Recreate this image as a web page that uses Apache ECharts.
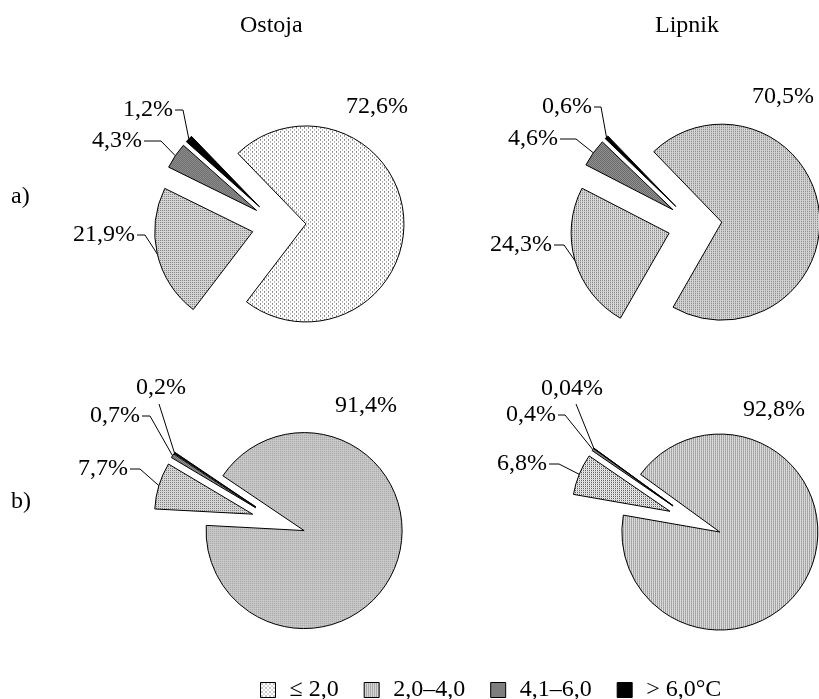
<!DOCTYPE html>
<html>
<head>
<meta charset="utf-8">
<title>Ostoja / Lipnik</title>
<script src="https://cdn.jsdelivr.net/npm/echarts@6/dist/echarts.min.js"></script>
<style>
  html, body { margin: 0; padding: 0; background: #fff; }
  #chart { width: 819px; height: 699px; }
</style>
</head>
<body>
<div id="chart"></div>
<script>
// ---- data -------------------------------------------------------------
const categories = ['≤ 2,0', '2,0–4,0', '4,1–6,0', '> 6,0°C'];
const sites = ['Ostoja', 'Lipnik'];
const periods = ['a)', 'b)'];
const ostojaA = [72.6, 21.9, 4.3, 1.2];
const lipnikA = [70.5, 24.3, 4.6, 0.6];
const ostojaB = [91.4, 7.7, 0.7, 0.2];
const lipnikB = [92.8, 6.8, 0.4, 0.04];

// ---- styling ----------------------------------------------------------
const FONT = '"Liberation Serif", "Times New Roman", serif';
const FS = 24;
const LABEL_GAP = 5;
const EXPLODE = 27;

// small bitmap tiles used as hatch fills
function tile(size, bg, dots) {
  const c = document.createElement('canvas');
  c.width = size; c.height = size;
  const g = c.getContext('2d');
  g.fillStyle = bg; g.fillRect(0, 0, size, size);
  dots.forEach(function (d) { g.fillStyle = d[2]; g.fillRect(d[0], d[1], 1, 1); });
  return c;
}
const fillSparse = { image: tile(4, '#ffffff', [[1, 1, '#1e1e1e'], [3, 3, '#707070']]), repeat: 'repeat' };
const fillMid = { image: tile(2, '#ffffff', [[0, 0, '#3a3a3a'], [1, 1, '#c8c8c8']]), repeat: 'repeat' };
const fillDark = { image: tile(2, '#bcbcbc', [[0, 0, '#404040'], [1, 1, '#404040']]), repeat: 'repeat' };
const fillBlack = '#000000';

const pies = [
  { values: ostojaA, center: [279, 225.5], startAngle: 134, fills: [fillSparse, fillMid, fillDark, fillBlack] },
  { values: lipnikA, center: [695, 225.5], startAngle: 134, fills: [fillMid, fillMid, fillDark, fillBlack] },
  { values: ostojaB, center: [278.5, 522], startAngle: 146, fills: [fillMid, fillMid, fillDark, fillBlack] },
  { values: lipnikB, center: [695, 521.5], startAngle: 144, fills: [fillMid, fillMid, fillDark, fillBlack] }
];

// where each percentage label sits (free: text centre; side: right end of text
// with a short horizontal tail; top: text centre, leader leaves from below it)
const LABEL_SPOTS = [
  [ { kind: 'free', x: 377, y: 107 },
    { kind: 'side', x: 135, y: 235, tail: 8 },
    { kind: 'side', x: 142, y: 141, tail: 17 },
    { kind: 'side', x: 173, y: 110, tail: 8 } ],
  [ { kind: 'free', x: 783, y: 97 },
    { kind: 'side', x: 552, y: 245, tail: 10 },
    { kind: 'side', x: 558, y: 139, tail: 16 },
    { kind: 'side', x: 592, y: 107, tail: 7 } ],
  [ { kind: 'free', x: 366, y: 406 },
    { kind: 'side', x: 128, y: 469, tail: 10 },
    { kind: 'side', x: 140, y: 416, tail: 8 },
    { kind: 'top', x: 161, y: 388, lx: 159, ly: 404 } ],
  [ { kind: 'free', x: 774, y: 410 },
    { kind: 'side', x: 547, y: 464, tail: 10 },
    { kind: 'side', x: 556, y: 415, tail: 7 },
    { kind: 'top', x: 572, y: 389, lx: 576, ly: 404 } ]
];

function pct(v) { return String(v).replace('.', ',') + '%'; }

function placeLabel(p) {
  const spot = LABEL_SPOTS[p.seriesIndex][p.dataIndex];
  const r = p.labelRect;
  const pts = p.labelLinePoints;
  if (!pts) return {};
  // exploded slices carry their label and leader along the bisector
  const c = pies[p.seriesIndex].center;
  const ax = pts[0][0] - c[0];
  const ay = pts[0][1] - c[1];
  const len = Math.sqrt(ax * ax + ay * ay) || 1;
  const sx = EXPLODE * ax / len;
  const sy = EXPLODE * ay / len;
  const midY = r.y + r.height / 2;

  if (spot.kind === 'free') {
    return { dx: spot.x - (r.x + r.width / 2) - sx, dy: spot.y - midY - sy };
  }
  const right = r.x + r.width;
  const offX = right - (pts[2][0] - LABEL_GAP) + sx;
  const offY = midY - pts[2][1] + sy;
  const anchor = pts[0];
  if (spot.kind === 'side') {
    return {
      dx: spot.x - right - sx,
      dy: spot.y - midY - sy,
      labelLinePoints: [
        anchor,
        [spot.x + 2 + spot.tail - offX, spot.y - offY],
        [spot.x + 2 - offX, spot.y - offY]
      ]
    };
  }
  return {
    dx: spot.x - (r.x + r.width / 2) - sx,
    dy: spot.y - midY - sy,
    labelLinePoints: [anchor, [spot.lx - offX, spot.ly - offY]]
  };
}

const series = pies.map(function (pie) {
  return {
    type: 'pie',
    center: pie.center,
    radius: 98,
    startAngle: pie.startAngle,
    clockwise: true,
    selectedMode: 'multiple',
    selectedOffset: EXPLODE,
    avoidLabelOverlap: false,
    silent: true,
    animation: false,
    emphasis: { disabled: true },
    itemStyle: { borderColor: '#000', borderWidth: 1 },
    select: { itemStyle: { borderColor: '#000', borderWidth: 1 } },
    label: {
      show: true,
      position: 'outside',
      distanceToLabelLine: LABEL_GAP,
      formatter: function (p) { return pct(p.value); },
      fontFamily: FONT,
      fontSize: FS,
      color: '#000'
    },
    labelLine: {
      show: true,
      length: 10,
      length2: 10,
      smooth: false,
      lineStyle: { color: '#000', width: 1 }
    },
    labelLayout: placeLabel,
    data: categories.map(function (name, i) {
      return {
        name: name,
        value: pie.values[i],
        selected: true,
        itemStyle: { color: pie.fills[i] },
        // the large share is labelled without a visible leader
        labelLine: i === 0 ? { lineStyle: { opacity: 0 } } : {}
      };
    })
  };
});

const titleStyle = { fontFamily: FONT, fontSize: FS, fontWeight: 'normal', color: '#000' };

const chart = echarts.init(document.getElementById('chart'), null, { renderer: 'canvas' });
chart.setOption({
  backgroundColor: '#fff',
  animation: false,
  title: [
    { text: sites[0], left: 240, top: 14, padding: 0, textStyle: titleStyle },
    { text: sites[1], left: 655, top: 14, padding: 0, textStyle: titleStyle },
    { text: periods[0], left: 11, top: 185, padding: 0, textStyle: titleStyle },
    { text: periods[1], left: 11, top: 490, padding: 0, textStyle: titleStyle }
  ],
  legend: {
    data: categories,
    orient: 'horizontal',
    left: 260,
    top: 678,
    padding: 0,
    itemWidth: 15,
    itemHeight: 15,
    itemGap: 25,
    icon: 'rect',
    selectedMode: false,
    itemStyle: { borderColor: '#000', borderWidth: 1 },
    textStyle: { fontFamily: FONT, fontSize: FS, color: '#000', padding: [0, 0, 0, 9] }
  },
  series: series
});
</script>
</body>
</html>
